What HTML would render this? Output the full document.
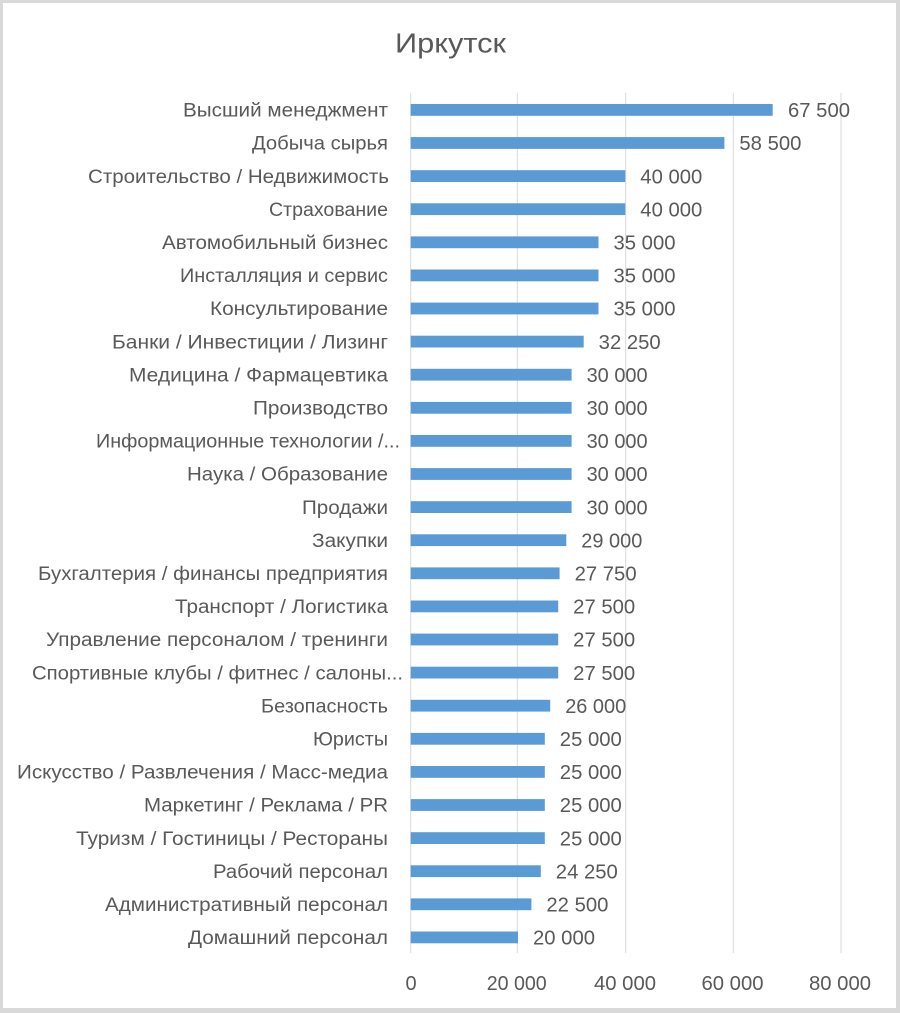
<!DOCTYPE html>
<html><head><meta charset="utf-8"><style>
html,body{margin:0;padding:0;background:#fff;}
svg{display:block;}
text{font-family:"Liberation Sans","Noto Sans CJK SC",sans-serif;fill:#595959;}
</style></head><body>
<svg width="900" height="1013" viewBox="0 0 900 1013" xmlns="http://www.w3.org/2000/svg">
<rect x="0" y="0" width="900" height="1013" fill="#d9d9d9"/>
<rect x="3" y="3" width="893" height="1005" fill="#ffffff"/>
<text x="395" y="52.5" font-size="28" textLength="111" lengthAdjust="spacingAndGlyphs">Иркутск</text>
<g stroke="#d9d9d9" stroke-width="1">
<line x1="410.7" y1="93" x2="410.7" y2="953"/>
<line x1="517.3" y1="93" x2="517.3" y2="953"/>
<line x1="625.7" y1="93" x2="625.7" y2="953"/>
<line x1="733.3" y1="93" x2="733.3" y2="953"/>
<line x1="841" y1="93" x2="841" y2="953"/>
</g>
<g fill="#5b9bd5">
<rect x="410.7" y="104" width="362" height="11.8"/>
<rect x="410.7" y="137.1" width="313.7" height="11.8"/>
<rect x="410.7" y="170.2" width="214.6" height="11.8"/>
<rect x="410.7" y="203.3" width="214.6" height="11.8"/>
<rect x="410.7" y="236.4" width="187.8" height="11.8"/>
<rect x="410.7" y="269.5" width="187.8" height="11.8"/>
<rect x="410.7" y="302.6" width="187.8" height="11.8"/>
<rect x="410.7" y="335.7" width="173" height="11.8"/>
<rect x="410.7" y="368.8" width="160.9" height="11.8"/>
<rect x="410.7" y="401.9" width="160.9" height="11.8"/>
<rect x="410.7" y="435" width="160.9" height="11.8"/>
<rect x="410.7" y="468.1" width="160.9" height="11.8"/>
<rect x="410.7" y="501.2" width="160.9" height="11.8"/>
<rect x="410.7" y="534.3" width="155.6" height="11.8"/>
<rect x="410.7" y="567.4" width="148.9" height="11.8"/>
<rect x="410.7" y="600.5" width="147.5" height="11.8"/>
<rect x="410.7" y="633.6" width="147.5" height="11.8"/>
<rect x="410.7" y="666.7" width="147.5" height="11.8"/>
<rect x="410.7" y="699.8" width="139.5" height="11.8"/>
<rect x="410.7" y="732.9" width="134.1" height="11.8"/>
<rect x="410.7" y="766" width="134.1" height="11.8"/>
<rect x="410.7" y="799.1" width="134.1" height="11.8"/>
<rect x="410.7" y="832.2" width="134.1" height="11.8"/>
<rect x="410.7" y="865.3" width="130.1" height="11.8"/>
<rect x="410.7" y="898.4" width="120.7" height="11.8"/>
<rect x="410.7" y="931.5" width="107.3" height="11.8"/>
</g>
<g font-size="19">
<text x="183" y="116.6" textLength="205" lengthAdjust="spacingAndGlyphs">Высший менеджмент</text>
<text x="252" y="149.7" textLength="136" lengthAdjust="spacingAndGlyphs">Добыча сырья</text>
<text x="88" y="182.8" textLength="301" lengthAdjust="spacingAndGlyphs">Строительство / Недвижимость</text>
<text x="269" y="215.9" textLength="119" lengthAdjust="spacingAndGlyphs">Страхование</text>
<text x="162" y="249" textLength="226" lengthAdjust="spacingAndGlyphs">Автомобильный бизнес</text>
<text x="180" y="282.1" textLength="208" lengthAdjust="spacingAndGlyphs">Инсталляция и сервис</text>
<text x="210" y="315.2" textLength="178" lengthAdjust="spacingAndGlyphs">Консультирование</text>
<text x="112" y="348.3" textLength="276" lengthAdjust="spacingAndGlyphs">Банки / Инвестиции / Лизинг</text>
<text x="129" y="381.4" textLength="259" lengthAdjust="spacingAndGlyphs">Медицина / Фармацевтика</text>
<text x="253" y="414.5" textLength="135" lengthAdjust="spacingAndGlyphs">Производство</text>
<text x="96" y="447.6" textLength="304" lengthAdjust="spacingAndGlyphs">Информационные технологии /...</text>
<text x="187" y="480.7" textLength="201" lengthAdjust="spacingAndGlyphs">Наука / Образование</text>
<text x="302" y="513.8" textLength="86" lengthAdjust="spacingAndGlyphs">Продажи</text>
<text x="312" y="546.9" textLength="76" lengthAdjust="spacingAndGlyphs">Закупки</text>
<text x="38" y="580" textLength="350" lengthAdjust="spacingAndGlyphs">Бухгалтерия / финансы предприятия</text>
<text x="175" y="613.1" textLength="213" lengthAdjust="spacingAndGlyphs">Транспорт / Логистика</text>
<text x="46" y="646.2" textLength="342" lengthAdjust="spacingAndGlyphs">Управление персоналом / тренинги</text>
<text x="32" y="679.3" textLength="371" lengthAdjust="spacingAndGlyphs">Спортивные клубы / фитнес / салоны...</text>
<text x="261" y="712.4" textLength="127" lengthAdjust="spacingAndGlyphs">Безопасность</text>
<text x="313" y="745.5" textLength="75" lengthAdjust="spacingAndGlyphs">Юристы</text>
<text x="17" y="778.6" textLength="371" lengthAdjust="spacingAndGlyphs">Искусство / Развлечения / Масс-медиа</text>
<text x="144" y="811.7" textLength="244" lengthAdjust="spacingAndGlyphs">Маркетинг / Реклама / PR</text>
<text x="76" y="844.8" textLength="312" lengthAdjust="spacingAndGlyphs">Туризм / Гостиницы / Рестораны</text>
<text x="213" y="877.9" textLength="175" lengthAdjust="spacingAndGlyphs">Рабочий персонал</text>
<text x="105" y="911" textLength="283" lengthAdjust="spacingAndGlyphs">Административный персонал</text>
<text x="188" y="944.1" textLength="200" lengthAdjust="spacingAndGlyphs">Домашний персонал</text>
</g>
<g font-size="20">
<text x="788" y="117.1" textLength="62" lengthAdjust="spacingAndGlyphs">67 500</text>
<text x="739.4" y="150.2" textLength="62" lengthAdjust="spacingAndGlyphs">58 500</text>
<text x="640.3" y="183.3" textLength="62" lengthAdjust="spacingAndGlyphs">40 000</text>
<text x="640.3" y="216.4" textLength="62" lengthAdjust="spacingAndGlyphs">40 000</text>
<text x="613.5" y="249.5" textLength="62" lengthAdjust="spacingAndGlyphs">35 000</text>
<text x="613.5" y="282.6" textLength="62" lengthAdjust="spacingAndGlyphs">35 000</text>
<text x="613.5" y="315.7" textLength="62" lengthAdjust="spacingAndGlyphs">35 000</text>
<text x="598.7" y="348.8" textLength="62" lengthAdjust="spacingAndGlyphs">32 250</text>
<text x="586.6" y="381.9" textLength="61" lengthAdjust="spacingAndGlyphs">30 000</text>
<text x="586.6" y="415" textLength="61" lengthAdjust="spacingAndGlyphs">30 000</text>
<text x="586.6" y="448.1" textLength="61" lengthAdjust="spacingAndGlyphs">30 000</text>
<text x="586.6" y="481.2" textLength="61" lengthAdjust="spacingAndGlyphs">30 000</text>
<text x="586.6" y="514.3" textLength="61" lengthAdjust="spacingAndGlyphs">30 000</text>
<text x="581.3" y="547.4" textLength="61" lengthAdjust="spacingAndGlyphs">29 000</text>
<text x="574.6" y="580.5" textLength="62" lengthAdjust="spacingAndGlyphs">27 750</text>
<text x="573.2" y="613.6" textLength="62" lengthAdjust="spacingAndGlyphs">27 500</text>
<text x="573.2" y="646.7" textLength="62" lengthAdjust="spacingAndGlyphs">27 500</text>
<text x="573.2" y="679.8" textLength="62" lengthAdjust="spacingAndGlyphs">27 500</text>
<text x="565.2" y="712.9" textLength="61" lengthAdjust="spacingAndGlyphs">26 000</text>
<text x="559.8" y="746" textLength="62" lengthAdjust="spacingAndGlyphs">25 000</text>
<text x="559.8" y="779.1" textLength="62" lengthAdjust="spacingAndGlyphs">25 000</text>
<text x="559.8" y="812.2" textLength="62" lengthAdjust="spacingAndGlyphs">25 000</text>
<text x="559.8" y="845.3" textLength="62" lengthAdjust="spacingAndGlyphs">25 000</text>
<text x="555.8" y="878.4" textLength="62" lengthAdjust="spacingAndGlyphs">24 250</text>
<text x="546.4" y="911.5" textLength="62" lengthAdjust="spacingAndGlyphs">22 500</text>
<text x="533" y="944.6" textLength="62" lengthAdjust="spacingAndGlyphs">20 000</text>
</g>
<g font-size="20" text-anchor="middle">
<text x="411" y="990">0</text>
<text x="516.7" y="990" textLength="60" lengthAdjust="spacingAndGlyphs">20 000</text>
<text x="625" y="990" textLength="62" lengthAdjust="spacingAndGlyphs">40 000</text>
<text x="732.5" y="990" textLength="62" lengthAdjust="spacingAndGlyphs">60 000</text>
<text x="840" y="990" textLength="62" lengthAdjust="spacingAndGlyphs">80 000</text>
</g>
</svg>
</body></html>
